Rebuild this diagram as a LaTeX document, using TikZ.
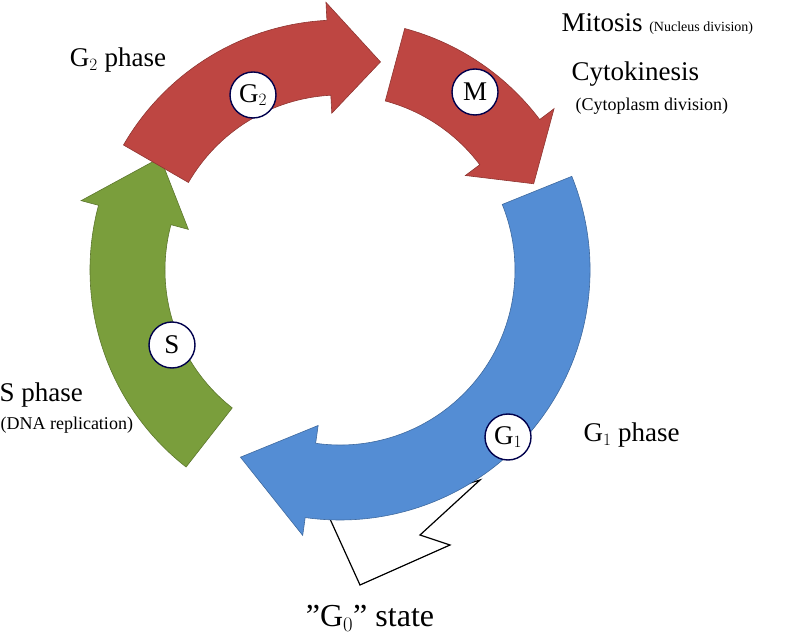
\documentclass[tikz,border=0pt]{standalone}
\usepackage{fontspec}
\setmainfont{Liberation Serif}
\definecolor{g1blue}{RGB}{84,141,212}
\definecolor{sgreen}{RGB}{122,158,60}
\definecolor{mred}{RGB}{190,70,66}
\begin{document}
\newcommand\cyclearrow[4]{% start, head base, tip, colour
	\filldraw[#4!75!black,fill=#4,line width=0.6pt] (#1:250) arc[start angle=#1, end angle=#2, radius=250]
	-- (#2:268) -- (#3:212) -- (#2:157) -- (#2:175)
	arc[start angle=#2, end angle=#1, radius=175] -- cycle;}
\begin{tikzpicture}[x=1pt, y=1pt, font=\fontsize{27}{29}\selectfont,
	phase/.style={circle, draw=black!70!blue, line width=1.4pt, fill=white, inner sep=1pt, minimum size=46pt},
	small/.style={font=\fontsize{18}{20}\selectfont}]
	\useasboundingbox (0,0) rectangle (785,638);
	%G0 exit arrow
	\draw[line width=1.2pt, fill=white] (325,130) -- (357,121) -- (480,158) -- (420,103)
	-- (450,93) -- (360,53) -- cycle;
	%arrows
	\begin{scope}[shift={(340,368)}]
		\cyclearrow{22}{-98}{-118}{g1blue}
		\cyclearrow{232}{165}{148}{sgreen}
		\cyclearrow{150}{93}{79}{mred}
		\cyclearrow{75}{37}{24}{mred}
	\end{scope}
	%phase markers
	\node[phase] (g2) at (253,543) {G$_2$};
	\node[phase] (m) at (475,546) {M};
	\node[phase] (s) at (172,293) {S};
	\node[phase] (g1) at (508,201) {G$_1$};
	%labels
	\node (g2 text) at (118,578) {G$_2$ phase};
	\node[anchor=west] (mit text) at (558,614) {Mitosis {\fontsize{14}{16}\selectfont(Nucleus division)}};
	\node[anchor=west] (cyt text) at (568,564) {Cytokinesis};
	\node[small, anchor=west] (cyt sub) at (572,532) {(Cytoplasm division)};
	\node[anchor=west] (s text) at (-4,243) {S phase};
	\node[small, anchor=west] (s sub) at (-3,213) {(DNA replication)};
	\node[anchor=west] (g1 text) at (580,203) {G$_1$ phase};
	\node[font=\fontsize{32}{34}\selectfont] (g0 text) at (370,20) {"G$_0$" state};
\end{tikzpicture}
\end{document}
